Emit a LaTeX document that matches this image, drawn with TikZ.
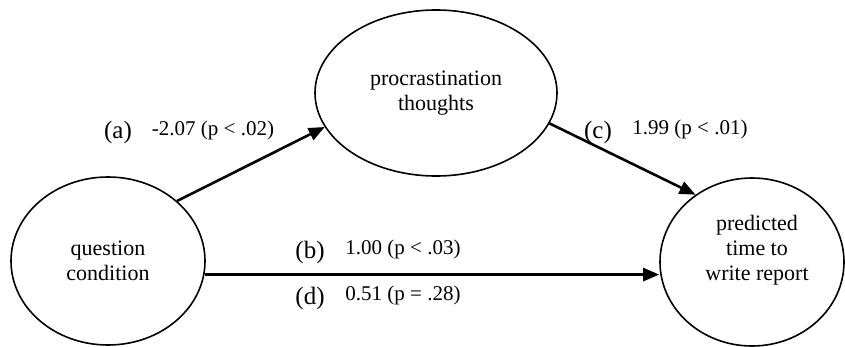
\documentclass[tikz,border=0pt]{standalone}
\usepackage{fontspec}
\setmainfont{Liberation Serif}
\usetikzlibrary{arrows.meta,shapes.geometric}
\begin{document}
\begin{tikzpicture}[x=1pt,y=1pt,
  varbox/.style={ellipse,draw,line width=1.6pt,inner sep=0pt,align=center,
    font=\fontsize{22}{25}\selectfont},
  vartext/.style={align=center,inner sep=0pt,font=\fontsize{22}{25}\selectfont},
  arr/.style={line width=2.6pt,-{Triangle[length=16pt,width=13pt]}},
  letter/.style={inner sep=0pt,font=\fontsize{25}{28}\selectfont},
  coef/.style={inner sep=0pt,font=\fontsize{21}{24}\selectfont}]
\useasboundingbox (0,0) rectangle (845,346);
\node[varbox,minimum width=194pt,minimum height=168pt] (qc) at (108,85) {question\\condition};
\node[varbox,minimum width=242pt,minimum height=166pt] (pt) at (436,253) {procrastination\\thoughts};
\node[varbox,minimum width=184pt,minimum height=168pt] (pr) at (752,84) {};
\node[vartext] (prt) at (757,96) {predicted\\time to\\write report};
\draw[arr] (qc.41) -- (pt.197);
\draw[arr] (pt.-15) -- (pr.130);
\draw[arr] (qc.-8) -- (qc.-8 -| pr.west);
\node[letter] (la) at (118,214) {(a)};
\node[coef] (ca) at (213,216) {-2.07 (p < .02)};
\node[letter] (lc) at (598,214) {(c)};
\node[coef] (cc) at (690,217) {1.99 (p < .01)};
\node[letter] (lb) at (310,94) {(b)};
\node[coef] (cb) at (403,97) {1.00 (p < .03)};
\node[letter] (ld) at (310,48) {(d)};
\node[coef] (cd) at (403,51) {0.51 (p = .28)};
\end{tikzpicture}
\end{document}
